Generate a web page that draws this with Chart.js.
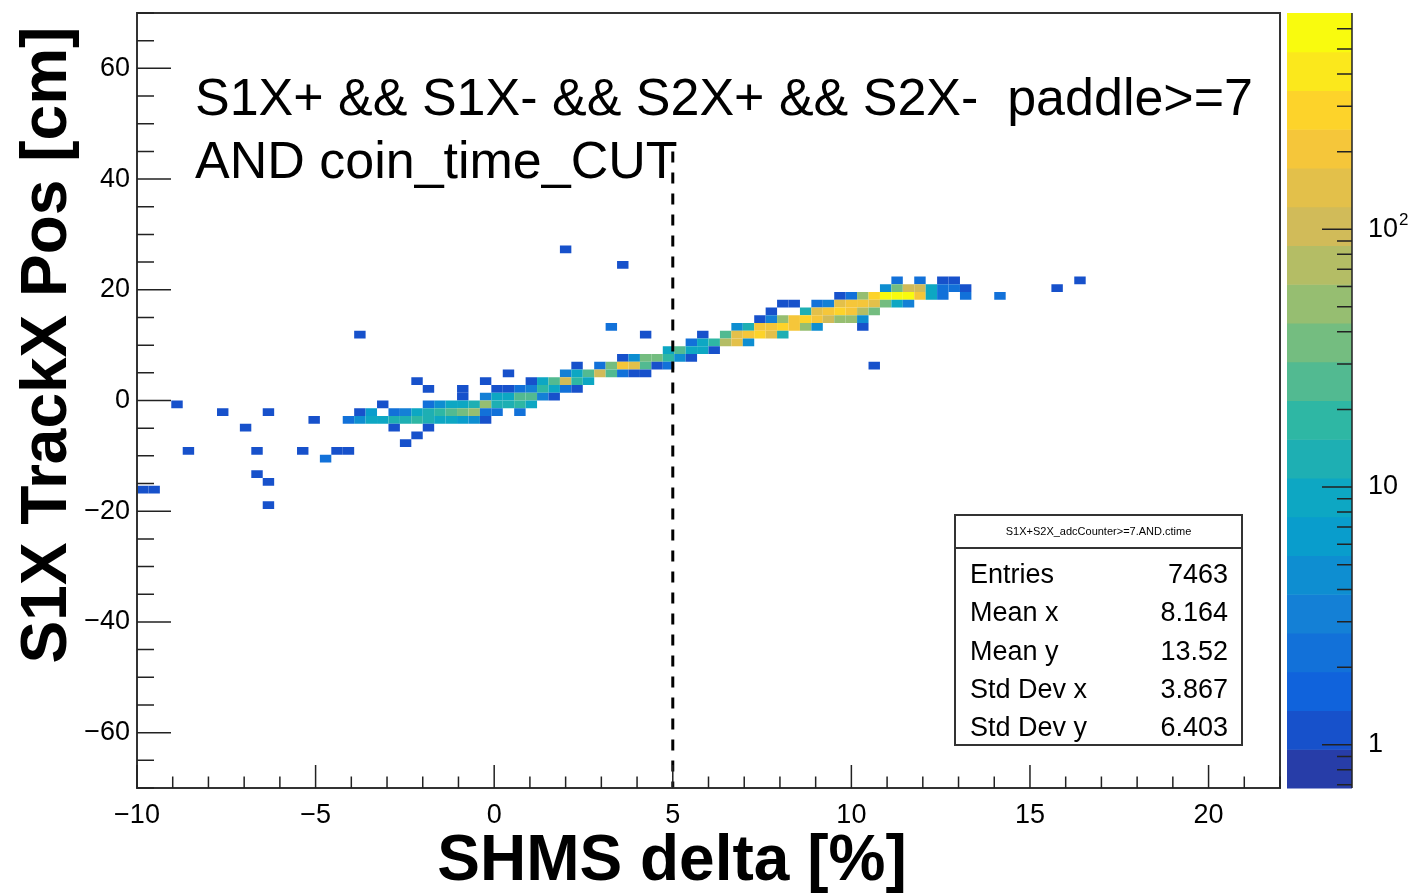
<!DOCTYPE html>
<html>
<head>
<meta charset="utf-8">
<script src="https://cdn.jsdelivr.net/npm/chart.js@4.4.1/dist/chart.umd.min.js"></script>
<style>
    body { margin: 0; background: #fff; }
</style>
</head>
<body>
<canvas id="histCanvas" width="1409" height="894"></canvas>
<script>
// S1X TrackX Pos vs SHMS delta, 2D histogram (COLZ, log z)

// x bin centres [%] of the filled columns
const colX = [
    -9.84, -9.52, -8.88, -8.56, -7.60, -6.96, -6.64, -6.32, -5.36, -5.04,
    -4.72, -4.40, -4.08, -3.76, -3.44, -3.12, -2.80, -2.48, -2.16, -1.84,
    -1.52, -1.20, -0.88, -0.56, -0.24, 0.08, 0.40, 0.72, 1.04, 1.36,
    1.68, 2.00, 2.32, 2.64, 2.96, 3.28, 3.60, 3.92, 4.24, 4.56,
    4.88, 5.20, 5.52, 5.84, 6.16, 6.48, 6.80, 7.12, 7.44, 7.76,
    8.08, 8.40, 8.72, 9.04, 9.36, 9.68, 10.00, 10.32, 10.64, 10.96,
    11.28, 11.60, 11.92, 12.24, 12.56, 12.88, 13.20, 14.16, 15.76, 16.40
];

// y bin centres [cm] filled in each column
const colY = [
    [-16.1], [-16.1], [-0.7], [-9.1], [-2.1], [-4.9], [-9.1, -13.3], [-2.1, -14.7, -18.9], [-9.1], [-3.5],
    [-10.5], [-9.1], [-3.5, -9.1], [11.9, -2.1, -3.5], [-2.1, -3.5], [-0.7, -3.5], [-2.1, -3.5, -4.9], [-2.1, -3.5, -7.7], [3.5, -2.1, -3.5, -6.3], [2.1, -0.7, -2.1, -3.5, -4.9],
    [-0.7, -2.1, -3.5], [-0.7, -2.1, -3.5], [2.1, 0.7, -0.7, -2.1, -3.5], [-0.7, -2.1, -3.5], [3.5, 0.7, -0.7, -2.1, -3.5], [2.1, 0.7, -0.7, -2.1], [4.9, 2.1, 0.7, -0.7], [2.1, 0.7, -0.7, -2.1], [3.5, 2.1, 0.7, -0.7], [3.5, 2.1, 0.7],
    [3.5, 2.1, 0.7], [27.3, 4.9, 3.5, 2.1], [6.3, 4.9, 3.5, 2.1], [4.9, 3.5], [6.3, 4.9], [13.3, 6.3, 4.9], [24.5, 7.7, 6.3, 4.9], [7.7, 6.3, 4.9], [11.9, 7.7, 6.3, 4.9], [7.7, 6.3],
    [9.1, 7.7, 6.3], [9.1, 7.7], [10.5, 9.1, 7.7], [11.9, 10.5, 9.1], [10.5, 9.1], [11.9, 10.5], [13.3, 11.9, 10.5], [13.3, 11.9, 10.5], [14.7, 13.3, 11.9], [16.1, 14.7, 13.3, 11.9],
    [17.5, 14.7, 13.3, 11.9], [17.5, 14.7, 13.3], [16.1, 14.7, 13.3], [17.5, 16.1, 14.7, 13.3], [17.5, 16.1, 14.7], [18.9, 17.5, 16.1, 14.7], [18.9, 17.5, 16.1, 14.7], [18.9, 17.5, 16.1, 14.7, 13.3], [18.9, 17.5, 16.1, 6.3], [20.3, 18.9, 17.5],
    [21.7, 20.3, 18.9, 17.5], [20.3, 18.9, 17.5], [21.7, 20.3, 18.9], [20.3, 18.9], [21.7, 20.3, 18.9], [21.7, 20.3], [20.3, 18.9], [18.9], [20.3], [21.7]
];

// bin contents, same layout as colY
const colZ = [
    [1], [1], [1], [1], [1], [1], [1, 1], [1, 1, 1], [1], [1],
    [2], [1], [2, 1], [1, 1, 4], [6, 8], [1, 10], [2, 12, 1], [3, 14, 1], [1, 10, 16, 1], [1, 2, 14, 12, 1],
    [4, 18, 10], [8, 22, 8], [1, 1, 10, 35, 6], [12, 50, 4], [1, 3, 55, 2, 1], [1, 8, 12, 2], [1, 1, 10, 15], [2, 25, 20, 2], [1, 3, 25, 8], [8, 20, 3],
    [25, 10, 1], [1, 3, 120, 2], [1, 10, 20, 1], [30, 10], [2, 120], [2, 35, 30], [1, 1, 220, 2], [5, 150, 1], [1, 40, 30, 1], [35, 1],
    [8, 20, 2], [25, 5], [2, 10, 1], [1, 10, 8], [18, 1], [25, 70], [4, 150, 160], [12, 180, 4], [1, 200, 280], [1, 3, 220, 150],
    [1, 60, 300, 15], [1, 180, 200], [15, 300, 60], [2, 150, 220, 5], [3, 180, 90], [1, 160, 250, 60], [2, 200, 220, 45], [60, 180, 70, 5, 1], [250, 130, 40, 1], [4, 550, 40],
    [2, 35, 600, 10], [110, 500, 3], [2, 100, 180], [10, 10], [1, 2, 2], [1, 2], [1, 2], [2], [1], [1]
];

const xTicks = [-10, -5, 0, 5, 10, 15, 20];
const yTicks = [-60, -40, -20, 0, 20, 40, 60];
const zTicks = [1, 10, 100];

const cutX = 5;
const cutY = [45, -70];

const statTitle = 'S1X+S2X_adcCounter>=7.AND.ctime';
const statNames = ['Entries', 'Mean x', 'Mean y', 'Std Dev x', 'Std Dev y'];
const statValues = ['7463', '8.164', '13.52', '3.867', '6.403'];

// binning / colour scale
const binW = 0.32, binH = 1.4;
const zMin = 0.68, zMax = 690, nLevels = 20;

const FONT = '"Liberation Sans", Arial, Helvetica, sans-serif';

// ROOT kBird palette
const birdStops = [0, 0.125, 0.25, 0.375, 0.5, 0.625, 0.75, 0.875, 1];
const birdR = [0.2082, 0.0592, 0.0780, 0.0232, 0.1802, 0.5301, 0.8186, 0.9956, 0.9764];
const birdG = [0.1664, 0.3599, 0.5041, 0.6419, 0.7178, 0.7492, 0.7328, 0.7862, 0.9832];
const birdB = [0.5293, 0.8684, 0.8385, 0.7914, 0.6425, 0.4662, 0.3499, 0.1968, 0.0539];

function birdColor(f) {
    let k = 0;
    while (k < birdStops.length - 2 && f > birdStops[k + 1]) k++;
    const t = (f - birdStops[k]) / (birdStops[k + 1] - birdStops[k]);
    const c = (a) => Math.round(255 * (a[k] + t * (a[k + 1] - a[k])));
    return 'rgb(' + c(birdR) + ',' + c(birdG) + ',' + c(birdB) + ')';
}

const lMin = Math.log10(zMin), lMax = Math.log10(zMax);

function levelOf(v) {
    const l = Math.floor((Math.log10(v) - lMin) / (lMax - lMin) * nLevels);
    return Math.max(0, Math.min(nLevels - 1, l));
}

function levelColor(k) {
    const idx = Math.floor((k + 0.99) * 255 / nLevels);
    return birdColor(Math.min(1, idx / 254));
}

function minus(v) {
    return String(v).replace('-', '\u2212');
}

const bins = [];
colX.forEach((x, i) => {
    colY[i].forEach((y, k) => {
        bins.push({ x: x, y: y, v: colZ[i][k] });
    });
});

const rootLook = {
    id: 'rootLook',

    beforeDatasetsDraw(chart) {
        const ctx = chart.ctx;
        const xs = chart.scales.x, ys = chart.scales.y;
        ctx.save();
        chart.data.datasets[0].data.forEach(b => {
            const x0 = xs.getPixelForValue(b.x - binW / 2);
            const x1 = xs.getPixelForValue(b.x + binW / 2);
            const y0 = ys.getPixelForValue(b.y + binH / 2);
            const y1 = ys.getPixelForValue(b.y - binH / 2);
            ctx.fillStyle = levelColor(levelOf(b.v));
            ctx.fillRect(x0, y0, x1 - x0, y1 - y0);
        });
        ctx.restore();
    },

    afterDraw(chart) {
        const ctx = chart.ctx;
        const a = chart.chartArea;
        const xs = chart.scales.x, ys = chart.scales.y, zs = chart.scales.z;
        ctx.save();

        // frame
        ctx.strokeStyle = '#333';
        ctx.lineWidth = 2;
        ctx.strokeRect(a.left, a.top, a.right - a.left, a.bottom - a.top);

        // axis ticks (inside the frame)
        ctx.strokeStyle = '#222';
        ctx.lineWidth = 1.5;
        ctx.beginPath();
        for (let v = -10; v <= 22; v++) {
            const px = xs.getPixelForValue(v);
            const len = v % 5 === 0 ? 23 : 11.5;
            ctx.moveTo(px, a.bottom);
            ctx.lineTo(px, a.bottom - len);
        }
        for (let v = -70; v <= 70; v += 5) {
            const py = ys.getPixelForValue(v);
            const len = v % 20 === 0 ? 34 : 17;
            ctx.moveTo(a.left, py);
            ctx.lineTo(a.left + len, py);
        }
        ctx.stroke();

        // tick labels
        ctx.fillStyle = '#000';
        ctx.font = '27px ' + FONT;
        ctx.textAlign = 'center';
        ctx.textBaseline = 'alphabetic';
        xTicks.forEach(v => ctx.fillText(minus(v), xs.getPixelForValue(v), 823));
        ctx.textAlign = 'right';
        ctx.textBaseline = 'middle';
        yTicks.forEach(v => ctx.fillText(minus(v), 130, ys.getPixelForValue(v)));

        // axis titles
        ctx.font = 'bold 64px ' + FONT;
        ctx.textAlign = 'center';
        ctx.textBaseline = 'alphabetic';
        ctx.fillText('SHMS delta [%]', 672, 880);
        ctx.save();
        ctx.translate(66, 345);
        ctx.rotate(-Math.PI / 2);
        ctx.fillText('S1X TrackX Pos [cm]', 0, 0);
        ctx.restore();

        // cut description
        ctx.font = '52px ' + FONT;
        ctx.textAlign = 'left';
        ctx.fillText('S1X+ && S1X- && S2X+ && S2X-  paddle>=7', 195, 115);
        ctx.fillText('AND coin_time_CUT', 195, 178);

        // colour bar
        const cbL = 1287, cbR = 1352;
        const dl = (lMax - lMin) / nLevels;
        for (let k = 0; k < nLevels; k++) {
            const yTop = zs.getPixelForValue(Math.pow(10, lMin + (k + 1) * dl));
            const yBot = zs.getPixelForValue(Math.pow(10, lMin + k * dl));
            ctx.fillStyle = levelColor(k);
            ctx.fillRect(cbL, yTop, cbR - cbL, yBot - yTop + 0.5);
        }
        ctx.strokeStyle = '#222';
        ctx.lineWidth = 1.5;
        ctx.beginPath();
        ctx.moveTo(cbR, zs.getPixelForValue(zMax));
        ctx.lineTo(cbR, zs.getPixelForValue(zMin));
        for (let e = -1; e <= 2; e++) {
            for (let m = 1; m <= 9; m++) {
                const v = m * Math.pow(10, e);
                if (v < zMin || v > zMax) continue;
                const py = zs.getPixelForValue(v);
                ctx.moveTo(cbR, py);
                ctx.lineTo(cbR - (m === 1 ? 30 : 15), py);
            }
        }
        ctx.stroke();

        ctx.fillStyle = '#000';
        ctx.font = '27px ' + FONT;
        ctx.textAlign = 'left';
        ctx.textBaseline = 'middle';
        zTicks.forEach(v => {
            const py = zs.getPixelForValue(v);
            if (v < 100) {
                ctx.fillText(String(v), 1368, py);
            } else {
                ctx.fillText('10', 1368, py);
                const w = ctx.measureText('10').width;
                ctx.font = '17px ' + FONT;
                ctx.fillText(String(Math.round(Math.log10(v))), 1368 + w + 1, py - 9);
                ctx.font = '27px ' + FONT;
            }
        });

        // stats box
        const sbL = 955, sbT = 515, sbW = 287, sbH = 230;
        ctx.fillStyle = '#fff';
        ctx.fillRect(sbL, sbT, sbW, sbH);
        ctx.strokeStyle = '#333';
        ctx.lineWidth = 2;
        ctx.strokeRect(sbL, sbT, sbW, sbH);
        ctx.beginPath();
        ctx.moveTo(sbL, 548);
        ctx.lineTo(sbL + sbW, 548);
        ctx.stroke();
        ctx.fillStyle = '#000';
        ctx.font = '11px ' + FONT;
        ctx.textAlign = 'center';
        ctx.textBaseline = 'middle';
        ctx.fillText(statTitle, sbL + sbW / 2, 532);
        ctx.font = '27px ' + FONT;
        ctx.textBaseline = 'alphabetic';
        statNames.forEach((name, i) => {
            const by = 583 + i * 38.3;
            ctx.textAlign = 'left';
            ctx.fillText(name, 970, by);
            ctx.textAlign = 'right';
            ctx.fillText(statValues[i], 1228, by);
        });

        ctx.restore();
    }
};

const ctx = document.getElementById('histCanvas').getContext('2d');

new Chart(ctx, {
    type: 'scatter',
    data: {
        datasets: [{
            label: 'bins',
            data: bins,
            pointRadius: 0,
            pointHoverRadius: 0
        }, {
            type: 'line',
            label: 'cut',
            data: [{ x: cutX, y: cutY[0] }, { x: cutX, y: cutY[1] }],
            borderColor: '#000',
            borderWidth: 3,
            borderDash: [11, 10],
            pointRadius: 0,
            fill: false
        }]
    },
    options: {
        responsive: false,
        animation: false,
        devicePixelRatio: 1,
        events: [],
        layout: {
            padding: { left: 137, right: 129, top: 13, bottom: 106 }
        },
        plugins: {
            legend: { display: false },
            tooltip: { enabled: false }
        },
        scales: {
            x: { type: 'linear', min: -10, max: 22, display: false },
            y: { type: 'linear', min: -70, max: 70, display: false },
            z: { type: 'logarithmic', position: 'right', min: zMin, max: zMax, display: false }
        }
    },
    plugins: [rootLook]
});
</script>
</body>
</html>
